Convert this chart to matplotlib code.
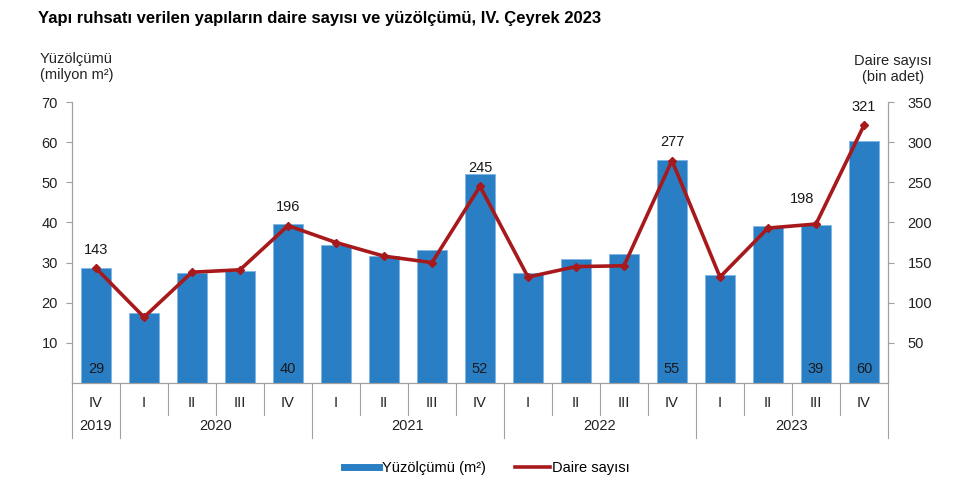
import matplotlib
matplotlib.use("Agg")
import matplotlib.pyplot as plt
from matplotlib.lines import Line2D
import matplotlib.transforms as mtransforms

plt.rcParams['font.family'] = ['Liberation Sans', 'DejaVu Sans']

quarters = ["IV", "I", "II", "III", "IV", "I", "II", "III", "IV",
            "I", "II", "III", "IV", "I", "II", "III", "IV"]
years = ["2019", "2020", "2021", "2022", "2023"]
year_spans = [(0, 0), (1, 4), (5, 8), (9, 12), (13, 16)]
area = [28.6, 17.5, 27.4, 27.9, 39.6, 34.4, 31.7, 33.2, 52.1,
        27.4, 30.9, 32.2, 55.5, 26.9, 39.2, 39.3, 60.3]
dwellings = [143, 82, 138, 141, 196, 175, 158, 150, 245,
             132, 145, 146, 277, 132, 193, 198, 321]
area_labels = {0: "29", 4: "40", 8: "52", 12: "55", 15: "39", 16: "60"}
dw_labels = {0: "143", 4: "196", 8: "245", 12: "277", 15: "198", 16: "321"}

fs = 10.5
fig = plt.figure(figsize=(9.62, 4.88), dpi=100)
ax = fig.add_axes([72/962, 1-383/488, (888-72)/962, 281/488])
ax2 = ax.twinx()

x = list(range(len(area)))
bar_c = "#2a7ec4"
line_c = "#a8191c"
grey = "#a0a0a0"
txt_c = "#222222"

ax.bar(x, area, width=0.62, color=bar_c, edgecolor="#7fb6e6", linewidth=0.6, zorder=2)
ax2.plot(x, dwellings, color=line_c, lw=2.6, marker="D", markersize=4, zorder=3)

ax.set_xlim(-0.5, len(area)-0.5)
ax.set_ylim(0, 70)
ax2.set_ylim(0, 350)
ax.set_yticks(range(10, 71, 10))
ax2.set_yticks(range(50, 351, 50))
ax.tick_params(axis='y', length=4, color=grey, labelsize=fs, pad=6, labelcolor=txt_c)
ax2.tick_params(axis='y', length=4, color=grey, labelsize=fs, pad=10, labelcolor=txt_c)
ax.set_xticks([])
for a in (ax, ax2):
    a.spines['top'].set_visible(False)
    for s in ('left', 'right', 'bottom'):
        a.spines[s].set_color(grey)
ax2.set_zorder(ax.get_zorder() + 1)
ax2.patch.set_visible(False)

for i, t in area_labels.items():
    ax.text(i, 1.8, t, ha='center', va='bottom', fontsize=fs, color="#1a1a1a", zorder=4)
for i, t in dw_labels.items():
    dx = -0.3 if i == 15 else 0
    dy = 22 if i == 15 else 14
    ax2.text(i + dx, dwellings[i] + dy, t, ha='center', va='bottom', fontsize=fs, color="#1a1a1a")

# category axis
tr = mtransforms.blended_transform_factory(ax.transData, ax.transAxes)
for i, q in enumerate(quarters):
    ax.text(i, -0.07, q, transform=tr, ha='center', va='center', fontsize=fs, color=txt_c)
year_bounds = set([-0.5] + [e + 0.5 for s, e in year_spans])
for b in [i - 0.5 for i in range(len(area) + 1)]:
    ylow = -0.196 if b in year_bounds else -0.114
    ax.plot([b, b], [0, ylow], transform=tr, color=grey, lw=0.8, clip_on=False)
for (s, e), yname in zip(year_spans, years):
    ax.text((s + e) / 2, -0.152, yname, transform=tr, ha='center', va='center', fontsize=fs, color=txt_c)

fig.text(38/962, 1-19/488, "Yapı ruhsatı verilen yapıların daire sayısı ve yüzölçümü, IV. Çeyrek 2023",
         fontsize=12, fontweight='bold', ha='left', va='center')
fig.text(40/962, 1-67/488, "Yüzölçümü\n(milyon m²)", fontsize=fs, ha='left', va='center',
         linespacing=1.25, color=txt_c)
fig.text(893/962, 1-69/488, "Daire sayısı\n(bin adet)", fontsize=fs, ha='center', va='center',
         linespacing=1.25, color=txt_c)

handles = [Line2D([0], [0], color=bar_c, lw=5), Line2D([0], [0], color=line_c, lw=2.6)]
fig.legend(handles, ["Yüzölçümü (m²)", "Daire sayısı"], loc='center', bbox_to_anchor=(487/962, 1-468/488),
           ncol=2, frameon=False, fontsize=fs, handlelength=2.4, handletextpad=0.15, columnspacing=2.0)

fig.savefig("out.png", dpi=100)
